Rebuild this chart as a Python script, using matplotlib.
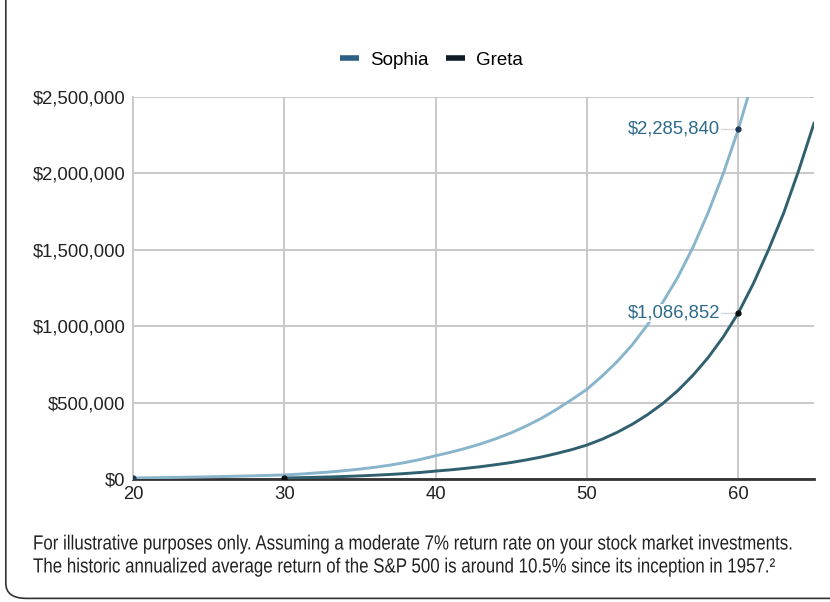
import matplotlib
matplotlib.use("Agg")
import matplotlib.pyplot as plt
from matplotlib.patches import FancyBboxPatch, PathPatch
from matplotlib.ticker import FuncFormatter
from matplotlib.textpath import TextPath
from matplotlib.font_manager import FontProperties
from matplotlib.transforms import Affine2D

# values (dollars by age)
sophia_age = list(range(20, 66))
sophia_val = [10000, 11200, 12500, 14000, 15600, 17400, 19400, 21700, 24200, 27000,
              30000, 35000, 42000, 49000, 58000, 68000, 80000, 94000, 111000, 131000,
              155000, 178000, 204000, 233000, 267000, 305000, 350000, 400000, 458000, 522000,
              589000, 675000, 770000, 880000, 1010000, 1155000, 1320000, 1515000, 1740000, 1995000,
              2285840, 2620000, 3000000, 3430000, 3930000, 4500000]
greta_age = list(range(30, 66))
greta_val = [10000, 12000, 14000, 16700, 19800, 23500, 28000, 33000, 39000, 46000,
             55000, 63000, 73000, 84000, 97000, 111000, 128000, 147000, 170000, 195000,
             225000, 263000, 308000, 361000, 423000, 495000, 580000, 680000, 795000, 930000,
             1086852, 1280000, 1500000, 1740000, 2020000, 2325000]
y_ticks = [0, 500000, 1000000, 1500000, 2000000, 2500000]
x_ticks = [20, 30, 40, 50, 60]
notes = ["For illustrative purposes only. Assuming a moderate 7% return rate on your stock market investments.",
         "The historic annualized average return of the S&P 500 is around 10.5% since its inception in 1957.\u00b2"]

plt.rcParams['font.family'] = ['Liberation Sans', 'DejaVu Sans']

W, H = 830, 602
fig = plt.figure(figsize=(W / 100, H / 100), dpi=100)
ax = fig.add_axes([0.1602, 0.2035, 0.8205, 0.6362])

ax.plot(sophia_age, sophia_val, color='#88b5cb', lw=2.1, zorder=3)
ax.plot(greta_age, greta_val, color='#30606f', lw=2.1, zorder=3)

# start / end markers
ax.plot([20, 60], [sophia_val[0], sophia_val[40]], 'o', color='#1d3a55', ms=3.5, zorder=4)
ax.plot([30, 60], [greta_val[0], greta_val[30]], 'o', color='#0b0f14', ms=3.5, zorder=4)

for v in [sophia_val[40], greta_val[30]]:
    ax.plot([58.7, 60], [v, v], color='#d8d8d8', lw=1, zorder=2)
    ax.text(58.8, v, f"${v:,}", ha='right', va='center', fontsize=13.3,
            color='#2e6a8a', zorder=5,
            bbox=dict(facecolor='white', edgecolor='none', pad=0.5))

ax.set_xlim(20, 65)
ax.set_ylim(0, 2500000)
ax.set_xticks(x_ticks)
ax.set_yticks(y_ticks)
ax.yaxis.set_major_formatter(FuncFormatter(lambda v, p: f"${int(v):,}"))
ax.grid(True, color='#c9c9c9', lw=1.4, zorder=1)
ax.tick_params(length=0, labelsize=13.3, colors='#222222')
ax.tick_params(axis='y', pad=5.5)
ax.tick_params(axis='x', pad=5)
for s in ['top', 'right']:
    ax.spines[s].set_visible(False)
ax.spines['left'].set_color('#c9c9c9')
ax.spines['left'].set_linewidth(1.4)
ax.spines['bottom'].set_color('#333333')
ax.spines['bottom'].set_linewidth(2)
ax.spines['bottom'].set_zorder(2)

# legend
h1, = ax.plot([], [], color='#2b5f86', lw=4, solid_capstyle='butt')
h2, = ax.plot([], [], color='#0f1c26', lw=4, solid_capstyle='butt')
fig.legend([h1, h2], ['Sophia', 'Greta'], loc='center', bbox_to_anchor=(0.52, 0.9),
           ncol=2, frameon=False, fontsize=13.5, handlelength=1.0, handletextpad=0.6,
           columnspacing=0.9)

# footnote in a condensed look: squeeze the text outlines horizontally
fp = FontProperties(family='Liberation Sans')
paths = [TextPath((0, 0), s, prop=fp, size=20.5) for s in notes]
sx = 757 / paths[0].get_extents().width
for p, base in zip(paths, [52.5, 29.5]):
    tr = Affine2D().scale(sx / W, 1 / H).translate(33 / W, base / H) + fig.transFigure
    fig.patches.append(PathPatch(p, transform=tr, facecolor='#222222', edgecolor='none'))

# card border
fig.patches.append(FancyBboxPatch((0.007, 0.006), 1.2, 1.2, transform=fig.transFigure,
                                  boxstyle='round,pad=0,rounding_size=0.025',
                                  facecolor='none', edgecolor='#333333', lw=1.2))

fig.savefig('out.png', dpi=100)
